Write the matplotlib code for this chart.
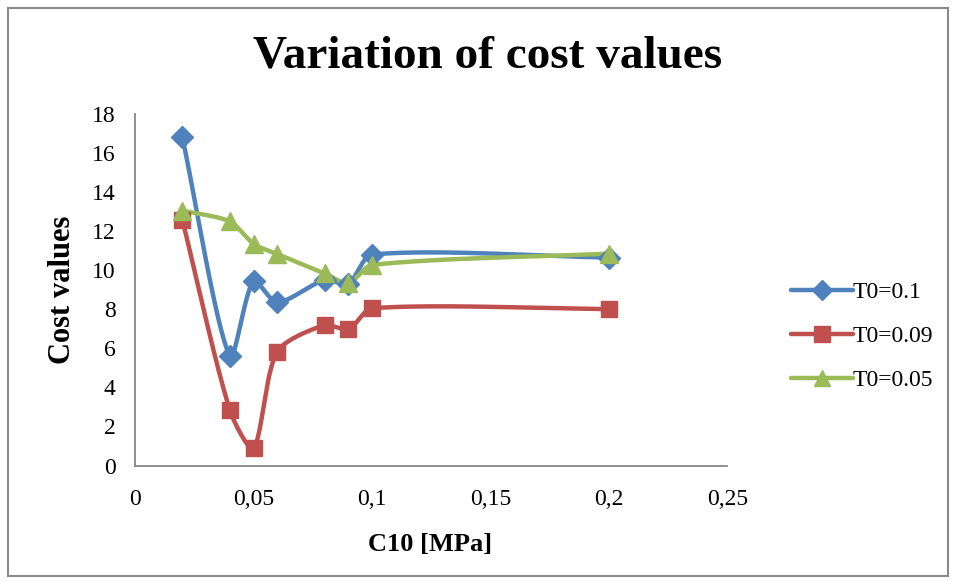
import numpy as np
import matplotlib
matplotlib.use("Agg")
import matplotlib.pyplot as plt
from matplotlib.patches import Rectangle

# ---- data ----
c10 = [0.02, 0.04, 0.05, 0.06, 0.08, 0.09, 0.1, 0.2]
t0_01 = [16.8, 5.6, 9.45, 8.35, 9.5, 9.3, 10.8, 10.65]
t0_009 = [12.57, 2.84, 0.88, 5.83, 7.19, 6.97, 8.05, 8.01]
t0_005 = [13.05, 12.5, 11.35, 10.83, 9.84, 9.33, 10.27, 10.85]
series_labels = ["T0=0.1", "T0=0.09", "T0=0.05"]
x_ticks = [0, 0.05, 0.1, 0.15, 0.2, 0.25]
x_ticklabels = ["0", "0,05", "0,1", "0,15", "0,2", "0,25"]
y_ticks = [0, 2, 4, 6, 8, 10, 12, 14, 16, 18]

colors = ["#4F81BD", "#C0504D", "#9BBB59"]
markers = ["D", "s", "^"]
msizes = [11, 12, 13]

plt.rcParams['font.family'] = ['Liberation Serif', 'DejaVu Serif']

XMAX, YMAX = 0.25, 18
SX, SY = 592.5 / XMAX, 351.5 / YMAX   # approximate pixel scale for smoothing


def smooth(xs, ys, n=50, k=0.8):
    """Excel-like smoothed line: cubic Bezier with chord-scaled tangents (pixel space)."""
    P = np.column_stack([np.asarray(xs) * SX, np.asarray(ys) * SY]).astype(float)
    m = len(P)
    d = np.linalg.norm(np.diff(P, axis=0), axis=1)
    T = np.zeros_like(P)
    for i in range(m):
        if i == 0:
            T[i] = (P[1] - P[0]) / d[0]
        elif i == m - 1:
            T[i] = (P[-1] - P[-2]) / d[-1]
        else:
            T[i] = (P[i + 1] - P[i - 1]) / (d[i - 1] + d[i])
    t = np.linspace(0, 1, n)
    outx, outy = [], []
    for i in range(m - 1):
        p1, p2 = P[i], P[i + 1]
        c1 = p1 + T[i] * d[i] * k / 3.0
        c2 = p2 - T[i + 1] * d[i] * k / 3.0
        b = ((1 - t) ** 3)[:, None] * p1 + (3 * (1 - t) ** 2 * t)[:, None] * c1 \
            + (3 * (1 - t) * t ** 2)[:, None] * c2 + (t ** 3)[:, None] * p2
        outx.extend(b[:, 0] / SX); outy.extend(b[:, 1] / SY)
    return np.array(outx), np.array(outy)


fig = plt.figure(figsize=(9.56, 5.82), dpi=100)
ax = fig.add_axes([135 / 956, 1 - 465.5 / 582, (727.5 - 135) / 956, (465.5 - 114) / 582])

for ys, col, mk, ms, lab in zip([t0_01, t0_009, t0_005], colors, markers, msizes, series_labels):
    sx, sy = smooth(c10, ys)
    ax.plot(sx, sy, color=col, lw=3.2, solid_capstyle='round', zorder=2)
    ax.plot(c10, ys, linestyle='none', marker=mk, markersize=ms, color=col,
            markeredgecolor=col, zorder=3)
    ax.plot([], [], color=col, lw=3.2, marker=mk, markersize=ms - 1, label=lab,
            solid_capstyle='round')

ax.set_xlim(0, XMAX)
ax.set_ylim(0, YMAX)
ax.set_xticks(x_ticks)
ax.set_xticklabels(x_ticklabels)
ax.set_yticks(y_ticks)
ax.tick_params(axis='both', length=0, labelsize=17)
ax.tick_params(axis='y', pad=14)
ax.tick_params(axis='x', pad=17)
for s in ['top', 'right']:
    ax.spines[s].set_visible(False)
for s in ['left', 'bottom']:
    ax.spines[s].set_color('#868686')
    ax.spines[s].set_linewidth(1.3)

fig.text(488 / 956, 1 - 56 / 582, "Variation of cost values", ha='center', va='center',
         fontsize=34, fontweight='bold')
fig.text(430 / 956, 1 - 545 / 582, "C10 [MPa]", ha='center', va='center',
         fontsize=19, fontweight='bold')
fig.text(62 / 956, 1 - 290 / 582, "Cost values", ha='center', va='center',
         fontsize=22, fontweight='bold', rotation=90)

leg = fig.legend(loc='upper left', bbox_to_anchor=(782 / 956, 1 - 272 / 582),
                 frameon=False, fontsize=17, handlelength=2.6, handletextpad=0.0,
                 labelspacing=0.95, borderaxespad=0)

fig.add_artist(Rectangle((8 / 956, 1 - 576 / 582), (948 - 8) / 956, (576 - 8) / 582,
                         transform=fig.transFigure, fill=False, edgecolor='#8a8a8a', lw=1.5))

fig.savefig("out.png", dpi=100)
